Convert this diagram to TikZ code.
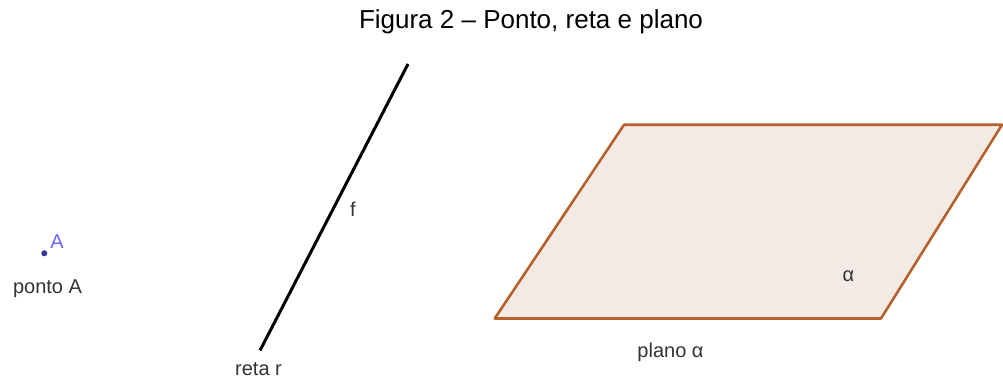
\documentclass[tikz,border=0pt]{standalone}
\usepackage{fontspec}
\setmainfont{Liberation Sans}
\usetikzlibrary{positioning}
\definecolor{ptblue}{HTML}{333399}
\definecolor{lblblue}{HTML}{6666FF}
\definecolor{edge}{HTML}{B5622F}
\definecolor{planefill}{HTML}{F3EAE6}
\definecolor{label}{HTML}{333333}
\tikzset{lbl/.style={text=label,font=\fontsize{20}{24}\selectfont,inner sep=0pt},
  planeedge/.style={draw=edge,line width=2.6pt,fill=planefill,line join=round}}

\begin{document}
\begin{tikzpicture}[x=1pt,y=-1pt]
\useasboundingbox (0,0) rectangle (1003,379);
\node[font=\fontsize{26}{30}\selectfont,inner sep=0pt] (title) at (531,22) {Figura 2 – Ponto, reta e plano};
% ponto
\fill[ptblue] (44.3,253.3) circle (3);
\node[inner sep=0pt] (pA) at (44.3,253.3) {};
\node[text=lblblue,font=\fontsize{20}{24}\selectfont,inner sep=0pt] (nA) at (57,241.5) {A};
\node[lbl] (ponto) at (47.5,289) {ponto A};
% reta
\coordinate (r1) at (260,350.5);
\coordinate (r2) at (408,64);
\draw[line width=3pt] (r1) -- (r2);
\node[lbl] (f) at (353,209) {f};
\node[lbl] (reta) at (258.5,369) {reta r};
% plano
\coordinate (p1) at (494.7,318.5);
\coordinate (p2) at (881,318.5);
\coordinate (p3) at (1002,124.8);
\coordinate (p4) at (624,124.8);
\draw[planeedge] (p1) -- (p2) -- (p3) -- (p4) -- cycle;
\node[lbl] (alpha) at (848.5,276.5) {α};
\node[lbl] (plano) at (670.5,352) {plano α};
\end{tikzpicture}
\end{document}
